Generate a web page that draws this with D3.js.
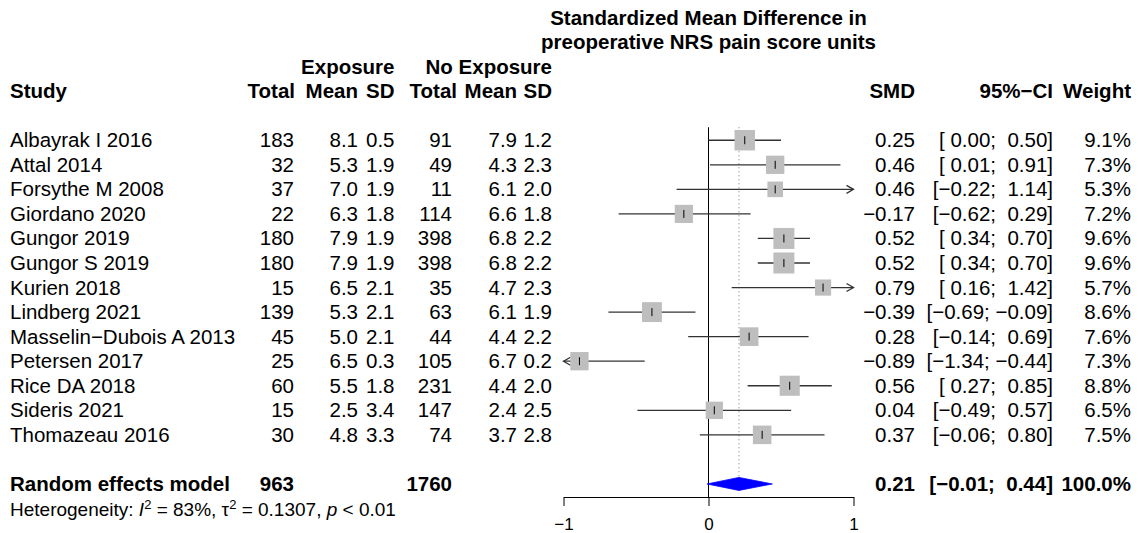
<!DOCTYPE html>
<html>
<head>
<meta charset="utf-8">
<script src="https://cdn.jsdelivr.net/npm/d3@7"></script>
<style>
  body { margin: 0; background: #fff; }
  text { font-family: "Liberation Sans", Arial, Helvetica, sans-serif; white-space: pre; }
</style>
</head>
<body>
<div id="chartArea"></div>
<script>
// data
const studies = ['Albayrak I 2016', 'Attal 2014', 'Forsythe M 2008', 'Giordano 2020', 'Gungor 2019',
  'Gungor S 2019', 'Kurien 2018', 'Lindberg 2021', 'Masselin\u2212Dubois A 2013', 'Petersen 2017',
  'Rice DA 2018', 'Sideris 2021', 'Thomazeau 2016'];
const expTotal = [183, 32, 37, 22, 180, 180, 15, 139, 45, 25, 60, 15, 30];
const expMean = [8.1, 5.3, 7.0, 6.3, 7.9, 7.9, 6.5, 5.3, 5.0, 6.5, 5.5, 2.5, 4.8];
const expSD = [0.5, 1.9, 1.9, 1.8, 1.9, 1.9, 2.1, 2.1, 2.1, 0.3, 1.8, 3.4, 3.3];
const noTotal = [91, 49, 11, 114, 398, 398, 35, 63, 44, 105, 231, 147, 74];
const noMean = [7.9, 4.3, 6.1, 6.6, 6.8, 6.8, 4.7, 6.1, 4.4, 6.7, 4.4, 2.4, 3.7];
const noSD = [1.2, 2.3, 2.0, 1.8, 2.2, 2.2, 2.3, 1.9, 2.2, 0.2, 2.0, 2.5, 2.8];
const smd = [0.25, 0.46, 0.46, -0.17, 0.52, 0.52, 0.79, -0.39, 0.28, -0.89, 0.56, 0.04, 0.37];
const ciLow = [0.00, 0.01, -0.22, -0.62, 0.34, 0.34, 0.16, -0.69, -0.14, -1.34, 0.27, -0.49, -0.06];
const ciHigh = [0.50, 0.91, 1.14, 0.29, 0.70, 0.70, 1.42, -0.09, 0.69, -0.44, 0.85, 0.57, 0.80];
const weights = [9.1, 7.3, 5.3, 7.2, 9.6, 9.6, 5.7, 8.6, 7.6, 7.3, 8.8, 6.5, 7.5];

const pooledTotals = [963, 1760];
const pooled = { smd: 0.21, low: -0.01, high: 0.44, weight: 100.0 };
const axisTicks = [-1, 0, 1];

const svgWidth = 1138;
const svgHeight = 533;
const fontSize = 20.5;

const canvas = d3.select('#chartArea')
  .append('svg')
  .attr('width', svgWidth)
  .attr('height', svgHeight);

// rows of the plot, one every ~24.5px
const rowCenter = k => 17.5 + k * 24.55;
const base = k => rowCenter(k) + 7;

const y = d3.scalePoint()
  .domain(d3.range(studies.length))
  .range([rowCenter(5), rowCenter(17)]);

const x = d3.scaleLinear()
  .domain([-1, 1])
  .range([563.5, 853.5]);

const minus = s => s.replace('-', '\u2212');
const f1 = v => minus(v.toFixed(1));
const f2 = v => minus(v.toFixed(2));
const pad = v => (v < 0 ? '' : ' ') + f2(v);
const ciText = (lo, hi) => '[' + pad(lo) + '; ' + pad(hi) + ']';

function addText(str, tx, ty, anchor, bold, size) {
  return canvas.append('text')
    .attr('x', tx)
    .attr('y', ty)
    .attr('text-anchor', anchor || 'start')
    .attr('font-size', size || fontSize)
    .attr('font-weight', bold ? 'bold' : 'normal')
    .attr('fill', '#000')
    .text(str);
}

// title
addText('Standardized Mean Difference in', x(0), base(0), 'middle', true);
addText('preoperative NRS pain score units', x(0), base(1), 'middle', true);

// headers
addText('Exposure', 394.5, base(2), 'end', true);
addText('No Exposure', 552, base(2), 'end', true);
addText('Study', 10, base(3), 'start', true);
addText('Total', 295, base(3), 'end', true);
addText('Mean', 358, base(3), 'end', true);
addText('SD', 394.5, base(3), 'end', true);
addText('Total', 457, base(3), 'end', true);
addText('Mean', 517, base(3), 'end', true);
addText('SD', 552, base(3), 'end', true);
addText('SMD', 915, base(3), 'end', true);
addText('95%\u2212CI', 1053, base(3), 'end', true);
addText('Weight', 1131, base(3), 'end', true);

// study columns
const columns = [
  { vals: studies, xPos: 10, anchor: 'start', fmt: d => d },
  { vals: expTotal, xPos: 294, anchor: 'end', fmt: d => d },
  { vals: expMean, xPos: 358, anchor: 'end', fmt: f1 },
  { vals: expSD, xPos: 394.5, anchor: 'end', fmt: f1 },
  { vals: noTotal, xPos: 452, anchor: 'end', fmt: d => d },
  { vals: noMean, xPos: 517, anchor: 'end', fmt: f1 },
  { vals: noSD, xPos: 552, anchor: 'end', fmt: f1 },
  { vals: smd, xPos: 915, anchor: 'end', fmt: f2 },
  { vals: d3.range(studies.length), xPos: 1053, anchor: 'end', fmt: i => ciText(ciLow[i], ciHigh[i]) },
  { vals: weights, xPos: 1131, anchor: 'end', fmt: d => d.toFixed(1) + '%' }
];

columns.forEach(col => {
  canvas.append('g')
    .selectAll('text')
    .data(col.vals)
    .join('text')
    .attr('x', col.xPos)
    .attr('y', (d, i) => y(i) + 7)
    .attr('text-anchor', col.anchor)
    .attr('font-size', fontSize)
    .text(col.fmt);
});

// pooled row
addText('Random effects model', 10, base(19), 'start', true);
addText(String(pooledTotals[0]), 294, base(19), 'end', true);
addText(String(pooledTotals[1]), 452, base(19), 'end', true);
addText(f2(pooled.smd), 915, base(19), 'end', true);
addText(ciText(pooled.low, pooled.high), 1053, base(19), 'end', true);
addText(pooled.weight.toFixed(1) + '%', 1131, base(19), 'end', true);

// heterogeneity line
const het = canvas.append('text')
  .attr('x', 10)
  .attr('y', base(20))
  .attr('font-size', 19);
het.append('tspan').text('Heterogeneity: ');
het.append('tspan').attr('font-style', 'italic').text('I');
het.append('tspan').attr('font-size', 13).attr('dy', -7).text('2');
het.append('tspan').attr('dy', 7).text(' = 83%, \u03c4');
het.append('tspan').attr('font-size', 13).attr('dy', -7).text('2');
het.append('tspan').attr('dy', 7).text(' = 0.1307, ');
het.append('tspan').attr('font-style', 'italic').text('p');
het.append('tspan').text(' < 0.01');

// reference lines
const lineTop = rowCenter(5) - 13;
canvas.append('line')
  .attr('x1', x(0)).attr('x2', x(0))
  .attr('y1', lineTop).attr('y2', 497)
  .attr('stroke', '#000')
  .attr('stroke-width', 1);

canvas.append('line')
  .attr('x1', x(pooled.smd)).attr('x2', x(pooled.smd))
  .attr('y1', lineTop).attr('y2', rowCenter(19) - 6.5)
  .attr('stroke', '#777')
  .attr('stroke-width', 1)
  .attr('stroke-dasharray', '1,3');

// confidence intervals with arrows where they leave the axis
const [xMin, xMax] = x.domain();
const ciGroup = canvas.append('g');
d3.range(studies.length).forEach(i => {
  const lo = Math.max(ciLow[i], xMin);
  const hi = Math.min(ciHigh[i], xMax);
  const cy = y(i);
  ciGroup.append('line')
    .attr('x1', x(lo)).attr('x2', x(hi))
    .attr('y1', cy).attr('y2', cy)
    .attr('stroke', '#333')
    .attr('stroke-width', 1.3);
  if (ciHigh[i] > xMax) {
    ciGroup.append('path')
      .attr('d', `M${x(hi) - 7},${cy - 4}L${x(hi)},${cy}L${x(hi) - 7},${cy + 4}`)
      .attr('fill', 'none')
      .attr('stroke', '#333')
      .attr('stroke-width', 1.3);
  }
  if (ciLow[i] < xMin) {
    ciGroup.append('path')
      .attr('d', `M${x(lo) + 7},${cy - 4}L${x(lo)},${cy}L${x(lo) + 7},${cy + 4}`)
      .attr('fill', 'none')
      .attr('stroke', '#333')
      .attr('stroke-width', 1.3);
  }
});

// weight squares, area proportional to weight
const side = d3.scaleSqrt()
  .domain([0, d3.max(weights)])
  .range([0, 21]);

canvas.append('g')
  .selectAll('rect')
  .data(smd)
  .join('rect')
  .attr('x', (d, i) => x(d) - side(weights[i]) / 2)
  .attr('y', (d, i) => y(i) - side(weights[i]) / 2)
  .attr('width', (d, i) => side(weights[i]))
  .attr('height', (d, i) => side(weights[i]))
  .attr('fill', '#bebebe');

canvas.append('g')
  .selectAll('line')
  .data(smd)
  .join('line')
  .attr('x1', d => x(d)).attr('x2', d => x(d))
  .attr('y1', (d, i) => y(i) - 4)
  .attr('y2', (d, i) => y(i) + 4)
  .attr('stroke', '#000')
  .attr('stroke-width', 1);

// pooled diamond
const dy = rowCenter(19);
canvas.append('path')
  .attr('d', `M${x(pooled.low)},${dy}L${x(pooled.smd)},${dy - 6.5}L${x(pooled.high)},${dy}L${x(pooled.smd)},${dy + 6.5}Z`)
  .attr('fill', '#0000ff')
  .attr('stroke', '#0000ff')
  .attr('stroke-width', 0.8);

// x axis
const axis = canvas.append('g')
  .attr('transform', 'translate(0,497)')
  .call(d3.axisBottom(x)
    .tickValues(axisTicks)
    .tickSize(9)
    .tickSizeOuter(0)
    .tickPadding(12)
    .tickFormat(d => minus(String(d))));

axis.select('.domain').attr('stroke', '#000').attr('stroke-width', 1);
axis.selectAll('.tick line').attr('stroke', '#000').attr('stroke-width', 1);
axis.selectAll('.tick text')
  .attr('font-size', 17)
  .attr('font-family', '"Liberation Sans", Arial, sans-serif')
  .attr('fill', '#000');
</script>
</body>
</html>
